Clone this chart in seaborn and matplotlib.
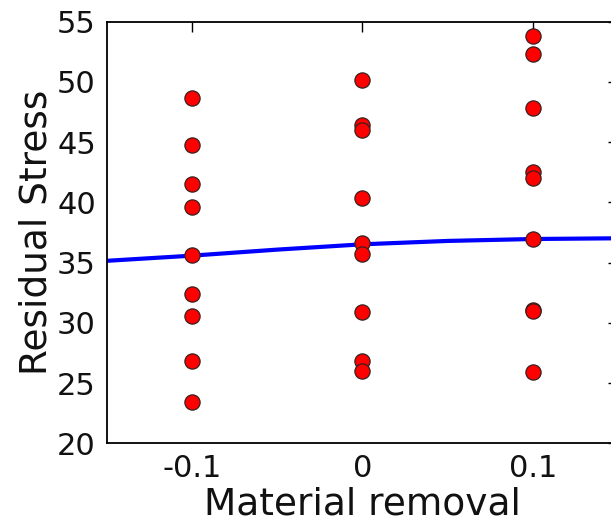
import matplotlib
matplotlib.use("Agg")
import matplotlib.pyplot as plt
import seaborn as sns
import pandas as pd

# ---- data ----
x_levels = [-0.1, 0.0, 0.1]
stress_neg = [48.7, 44.8, 41.5, 39.6, 35.6, 32.4, 30.6, 26.8, 23.4]
stress_zero = [50.2, 46.4, 46.0, 40.4, 36.6, 35.7, 30.9, 26.8, 26.0]
stress_pos = [53.8, 52.3, 47.8, 42.5, 42.0, 37.0, 31.1, 31.0, 25.9]

fit_x = [-0.15, -0.1, -0.05, 0.0, 0.05, 0.1, 0.15]
fit_y = [35.15, 35.58, 36.08, 36.52, 36.8, 36.96, 37.02]

x_ticks = [-0.1, 0.0, 0.1]
x_tick_labels = ["-0.1", "0", "0.1"]
y_ticks = [20, 25, 30, 35, 40, 45, 50, 55]

points = pd.DataFrame({
    "Material removal": [x_levels[0]] * len(stress_neg)
    + [x_levels[1]] * len(stress_zero)
    + [x_levels[2]] * len(stress_pos),
    "Residual Stress": stress_neg + stress_zero + stress_pos,
})
fit = pd.DataFrame({"x": fit_x, "y": fit_y})

sns.set_style("white")
plt.rcParams["font.family"] = ["DejaVu Sans"]

fig = plt.figure(figsize=(6.11, 5.26), dpi=100)
ax = fig.add_axes([107 / 611, 82.7 / 526, (618 - 107) / 611, (443.3 - 21.7) / 526])

sns.lineplot(data=fit, x="x", y="y", ax=ax, color="#0000ff", linewidth=3.0,
             zorder=2, estimator=None, sort=False)
sns.scatterplot(data=points, x="Material removal", y="Residual Stress", ax=ax,
                color="#ff0000", edgecolor="#3a2020", linewidth=0.9, s=120,
                zorder=3)

ax.set_xlim(-0.15, 0.15)
ax.set_ylim(20, 55)
ax.set_xticks(x_ticks)
ax.set_xticklabels(x_tick_labels)
ax.set_yticks(y_ticks)
ax.set_yticklabels([str(v) for v in y_ticks])

ax.tick_params(direction="in", top=True, right=True, length=7, width=1,
               labelsize=22, pad=8, color="black", labelcolor="#111111")
for sp in ax.spines.values():
    sp.set_visible(True)
    sp.set_color("black")
    sp.set_linewidth(1.3)

ax.set_xlabel("Material removal", fontsize=27, color="#111111", labelpad=2)
ax.set_ylabel("Residual Stress", fontsize=27, color="#111111", labelpad=2)

fig.savefig("out.png", dpi=100)
